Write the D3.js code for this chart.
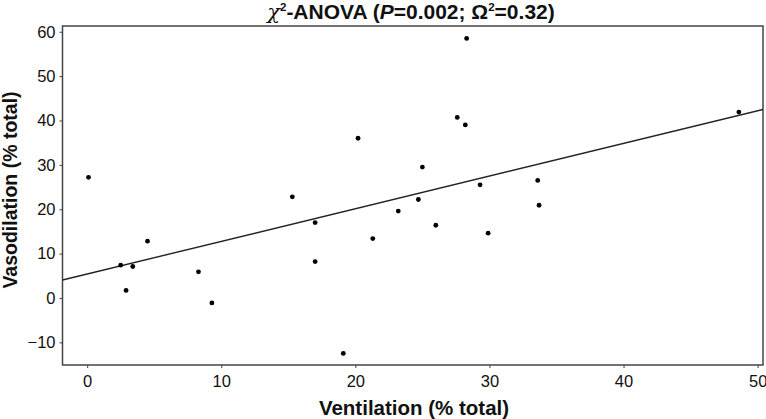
<!DOCTYPE html>
<html><head><meta charset="utf-8">
<script src="https://cdn.jsdelivr.net/npm/d3@7"></script>
<style>body{margin:0;background:#fff}svg{display:block}</style>
</head><body>
<svg id="c" width="766" height="419"></svg>
<script>
const ventilation = [0.1,2.5,2.9,3.4,4.5,8.3,9.3,15.3,17.0,17.0,19.1,20.2,21.3,23.2,24.7,25.0,26.0,27.6,28.2,28.3,29.3,29.9,33.6,33.7,48.6];
const vasodilation = [27.2,7.4,1.7,7.1,12.8,5.9,-1.1,22.8,17.0,8.2,-12.5,36.0,13.4,19.6,22.2,29.5,16.4,40.7,39.0,58.5,25.5,14.6,26.5,20.9,41.9];
const xTicks = [0,10,20,30,40,50];
const yTicks = [-10,0,10,20,30,40,50,60];
const fitIntercept = 5.4;
const fitSlope = 0.736;

const svg = d3.select('#c');
const L=62.5, R=763, T=26, B=365;
const x = d3.scaleLinear().domain([-1.84,50.4]).range([L,R]);
const y = d3.scaleLinear().domain([-15.1,61.3]).range([B,T]);
const frameColor = '#444';
const FONT = 'Liberation Sans, Arial, sans-serif';

svg.append('defs').append('clipPath').attr('id','clip')
  .append('rect').attr('x',L).attr('y',T).attr('width',R-L).attr('height',B-T);

svg.append('rect').attr('x',L).attr('y',T).attr('width',R-L).attr('height',B-T)
  .attr('fill','none').attr('stroke',frameColor).attr('stroke-width',1.5);

const xa = svg.append('g').attr('transform',`translate(0,${B})`)
  .call(d3.axisBottom(x).tickValues(xTicks).tickSize(3).tickPadding(7).tickFormat(d3.format('d')));
const ya = svg.append('g').attr('transform',`translate(${L},0)`)
  .call(d3.axisLeft(y).tickValues(yTicks).tickSize(3).tickPadding(4).tickFormat(d=>d<0?'\u2212'+Math.abs(d):d));
[xa,ya].forEach(a=>{
  a.select('.domain').remove();
  a.selectAll('line').attr('stroke',frameColor);
  a.selectAll('text').attr('font-family',FONT).attr('font-size',16.5).attr('fill','#111');
});

svg.append('line').attr('clip-path','url(#clip)')
  .attr('x1',x(-1.84)).attr('y1',y(fitIntercept+fitSlope*-1.84))
  .attr('x2',x(50.4)).attr('y2',y(fitIntercept+fitSlope*50.4))
  .attr('stroke','#222').attr('stroke-width',1.4);

svg.append('g').selectAll('circle').data(ventilation.map((v,i)=>[v,vasodilation[i]]))
  .join('circle').attr('cx',d=>x(d[0])).attr('cy',d=>y(d[1])).attr('r',2.4).attr('fill','#000');

const title = svg.append('text').attr('x',411).attr('y',19).attr('text-anchor','middle')
  .attr('font-family',FONT).attr('font-weight','bold').attr('font-size',21).attr('fill','#111');
title.append('tspan').attr('font-style','italic').attr('font-family','DejaVu Serif, serif').attr('font-weight','normal').text('\u03c7');
title.append('tspan').attr('font-size',11.5).attr('dy',-8).text('2');
title.append('tspan').attr('dy',8).text('-ANOVA (');
title.append('tspan').attr('font-style','italic').text('P');
title.append('tspan').text('=0.002; \u03a9');
title.append('tspan').attr('font-size',11.5).attr('dy',-8).text('2');
title.append('tspan').attr('dy',8).text('=0.32)');

svg.append('text').attr('x',414).attr('y',415).attr('text-anchor','middle')
  .attr('font-family',FONT).attr('font-weight','bold').attr('font-size',20.5).attr('fill','#111')
  .text('Ventilation (% total)');
svg.append('text').attr('transform','translate(17,190) rotate(-90)').attr('text-anchor','middle')
  .attr('font-family',FONT).attr('font-weight','bold').attr('font-size',19.5).attr('fill','#111')
  .text('Vasodilation (% total)');
</script>
</body></html>
